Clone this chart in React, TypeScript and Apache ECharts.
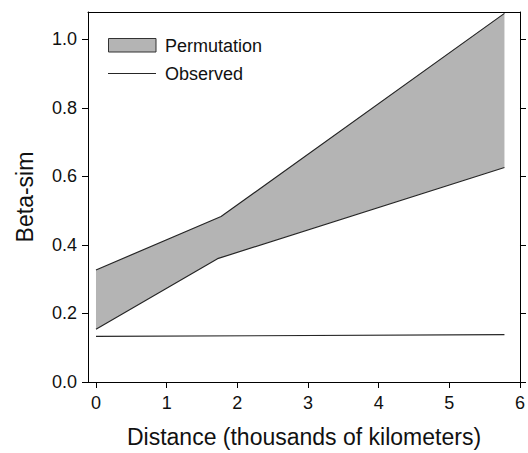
import React, { useEffect, useRef } from "react";
import * as echarts from "echarts";

const upperBand: [number, number][] = [[0, 0.327], [1.77, 0.483], [5.78, 1.076]];
const lowerBand: [number, number][] = [[0, 0.154], [1.72, 0.36], [5.78, 0.626]];
const observed: [number, number][] = [[0, 0.133], [5.78, 0.138]];
const xTicks = [0, 1, 2, 3, 4, 5, 6];
const yTicks = [0, 0.2, 0.4, 0.6, 0.8, 1.0];
const legendLabels = ["Permutation", "Observed"];

const FONT = '"Liberation Sans", Arial, Helvetica, sans-serif';
const FILL = "#b4b4b4";
const LINE = "#262626";

export default function App() {
  const ref = useRef<HTMLDivElement>(null);
  useEffect(() => {
    if (!ref.current) return;
    const chart = echarts.init(ref.current, undefined, { renderer: "svg" });
    const polygonPts = [...upperBand, ...[...lowerBand].reverse()];
    const axisLineStyle = { color: "#000", width: 1 };
    chart.setOption({
      animation: false,
      grid: { left: 88, right: 7, top: 12, bottom: 63, containLabel: false },
      xAxis: [
        {
          type: "value",
          min: -0.113,
          max: 6,
          position: "bottom",
          name: "Distance (thousands of kilometers)",
          nameLocation: "middle",
          nameGap: 43,
          nameTextStyle: { fontFamily: FONT, fontSize: 23, color: "#111" },
          axisLine: { show: true, onZero: false, lineStyle: axisLineStyle },
          axisTick: { show: true, inside: false, length: 6, customValues: xTicks, lineStyle: axisLineStyle },
          axisLabel: { customValues: xTicks, margin: 12, fontFamily: FONT, fontSize: 18, color: "#111" },
          splitLine: { show: false },
        },
        {
          type: "value",
          min: -0.113,
          max: 6,
          position: "top",
          axisLine: { show: true, onZero: false, lineStyle: axisLineStyle },
          axisTick: { show: false },
          axisLabel: { show: false },
          splitLine: { show: false },
        },
      ],
      yAxis: [
        {
          type: "value",
          min: 0,
          max: 1.08,
          position: "left",
          name: "Beta-sim",
          nameLocation: "middle",
          nameGap: 52,
          nameRotate: 90,
          nameTextStyle: { fontFamily: FONT, fontSize: 23, color: "#111" },
          axisLine: { show: true, onZero: false, lineStyle: axisLineStyle },
          axisTick: { show: true, inside: false, length: 6, customValues: yTicks, lineStyle: axisLineStyle },
          axisLabel: {
            customValues: yTicks,
            margin: 11,
            fontFamily: FONT,
            fontSize: 18,
            color: "#111",
            formatter: (v: number) => v.toFixed(1),
          },
          splitLine: { show: false },
        },
        {
          type: "value",
          min: 0,
          max: 1.08,
          position: "right",
          axisLine: { show: true, onZero: false, lineStyle: axisLineStyle },
          axisTick: { show: true, inside: false, length: 6, customValues: yTicks, lineStyle: axisLineStyle },
          axisLabel: { show: false },
          splitLine: { show: false },
        },
      ],
      series: [
        {
          type: "custom",
          name: legendLabels[0],
          xAxisIndex: 0,
          yAxisIndex: 0,
          data: polygonPts,
          encode: { x: 0, y: 1 },
          z: 1,
          renderItem: (params: any, api: any) => {
            if (params.dataIndex !== 0) return null;
            const pts = polygonPts.map((p) => api.coord(p));
            return {
              type: "polygon",
              shape: { points: pts },
              style: { fill: FILL, stroke: "none" },
            };
          },
        },
        {
          type: "line",
          data: upperBand,
          symbol: "none",
          z: 3,
          lineStyle: { color: LINE, width: 1.2 },
        },
        {
          type: "line",
          data: lowerBand,
          symbol: "none",
          z: 3,
          lineStyle: { color: LINE, width: 1.2 },
        },
        {
          type: "line",
          name: legendLabels[1],
          data: observed,
          symbol: "none",
          z: 3,
          lineStyle: { color: LINE, width: 1.2 },
        },
      ],
      graphic: [
        {
          type: "rect",
          shape: { x: 108.5, y: 38.5, width: 47.5, height: 13.5 },
          style: { fill: FILL, stroke: "#333", lineWidth: 1 },
          z: 10,
        },
        {
          type: "text",
          x: 165,
          y: 45.5,
          style: { text: legendLabels[0], font: `18px ${FONT}`, fill: "#111", verticalAlign: "middle" },
          z: 10,
        },
        {
          type: "line",
          shape: { x1: 108, y1: 73.5, x2: 156, y2: 73.5 },
          style: { stroke: LINE, lineWidth: 1.2 },
          z: 10,
        },
        {
          type: "text",
          x: 165,
          y: 74,
          style: { text: legendLabels[1], font: `18px ${FONT}`, fill: "#111", verticalAlign: "middle" },
          z: 10,
        },
      ],
    });
    return () => chart.dispose();
  }, []);
  return (
    <div
      ref={ref}
      style={{ position: "absolute", left: 0, top: 0, width: 528, height: 453 }}
    />
  );
}
